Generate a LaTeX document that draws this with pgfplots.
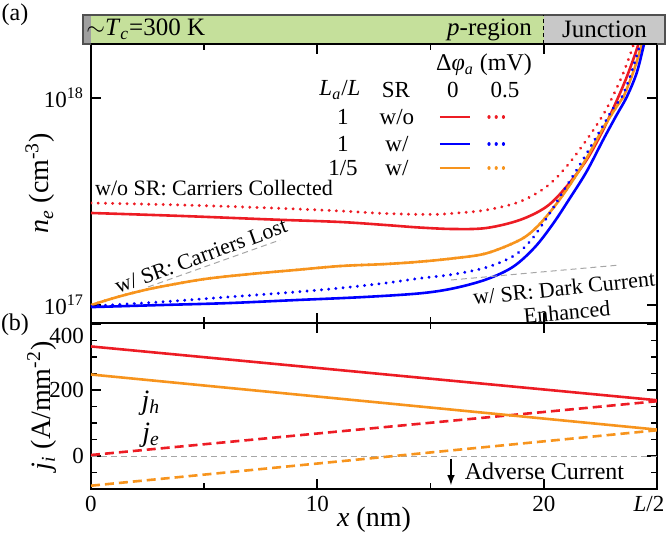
\documentclass[border=0pt]{standalone}
\usepackage{fontspec}
\setmainfont{Liberation Serif}
\usepackage{pgfplots}
\pgfplotsset{compat=1.18}

\definecolor{cred}{RGB}{237,28,36}
\definecolor{cblue}{RGB}{0,0,255}
\definecolor{corange}{RGB}{247,148,29}
\definecolor{barg}{RGB}{197,224,155}
\definecolor{barj}{RGB}{200,200,200}
\definecolor{bard}{RGB}{80,80,80}

\newcommand{\fs}[1]{\fontsize{#1}{#1}\selectfont}

\tikzset{
 dotl/.style={line width=1.6pt, line cap=round, dash pattern=on 0.01pt off 3.6pt},
 soll/.style={line width=1.3pt},
 dashl/.style={line width=1.3pt, dash pattern=on 4.5pt off 2.5pt},
}
\pgfplotsset{
 myax/.style={
  scale only axis, width=283pt, xmin=0, xmax=25,
  axis line style={line width=1.1pt},
  major tick length=5pt, minor tick length=3pt,
  every tick/.style={black, line width=0.9pt},
  tick label style={font=\fs{11.5}},
  /pgf/number format/assume math mode=true,
  label style={font=\fs{14}},
  clip=true,
 },
}

\begin{document}
\begin{tikzpicture}
\path[use as bounding box] (-45.5pt,22pt) rectangle (287.5pt,-244pt);

% ---------------- panel (a) ----------------
\begin{axis}[myax, name=a, at={(0,0)}, anchor=north west, height=139.5pt,
  ymode=log, ymin=8.2e16, ymax=1.82e18,
  ytick={1e17,1e18}, yticklabels={10\textsuperscript{17},10\textsuperscript{18}},
  yminorticks=false,
  xtick={0,10,20,25}, xticklabels={,,,}, minor xtick={5,15},
  ylabel={\textit{n}\textsubscript{\textit{e}} (cm\textsuperscript{-3})},
  ylabel style={at={(axis description cs:-0.09,0.5)}, anchor=center},
  every axis plot/.append style={smooth, tension=0.55},
]
% red, w/o SR, 0.5 mV (dotted)
\addplot[cred, dotl] coordinates {(0,3.110e17)(4,3.041e17)(8,2.941e17)(11,2.846e17)(13,2.767e17)(15,2.737e17)(16,2.773e17)(17.46,2.877e17)(18.94,3.155e17)(20.12,3.728e17)(21.0,4.658e17)(21.89,6.268e17)(22.62,8.278e17)(23.03,1.008e18)(23.51,1.316e18)(23.96,1.803e18)(24.15,2.2e18)};
% red, w/o SR, 0 mV
\addplot[cred, soll] coordinates {(0,2.783e17)(4,2.692e17)(8,2.588e17)(11,2.518e17)(13,2.435e17)(14.5,2.368e17)(16,2.329e17)(17.46,2.355e17)(18.94,2.574e17)(20.12,2.985e17)(21.0,3.728e17)(21.89,5.018e17)(22.62,7.003e17)(23.29,1.008e18)(23.73,1.316e18)(24.17,1.803e18)(24.35,2.2e18)};
% orange, 1/5, 0.5 mV (dotted, coincides)
\addplot[corange, dotl] coordinates {(0,1.0e17)(1,1.081e17)(2,1.156e17)(3,1.222e17)(5,1.335e17)(7,1.411e17)(9,1.476e17)(11,1.543e17)(13,1.578e17)(14.51,1.619e17)(16,1.681e17)(17.46,1.777e17)(18.94,2.061e17)(19.68,2.374e17)(20.41,2.932e17)(21.15,3.800e17)(21.89,5.113e17)(22.62,7.139e17)(23.22,9.08e17)(23.51,1.008e18)(23.96,1.340e18)(24.32,1.803e18)(24.5,2.2e18)};
% orange, 1/5, 0 mV
\addplot[corange, soll] coordinates {(0,1.0e17)(1,1.081e17)(2,1.156e17)(3,1.222e17)(5,1.335e17)(7,1.411e17)(9,1.476e17)(11,1.543e17)(13,1.578e17)(14.51,1.619e17)(16,1.681e17)(17.46,1.777e17)(18.94,2.061e17)(19.68,2.374e17)(20.41,2.932e17)(21.15,3.800e17)(21.89,5.113e17)(22.62,7.139e17)(23.22,9.08e17)(23.51,1.008e18)(23.96,1.340e18)(24.32,1.803e18)(24.5,2.2e18)};
% blue, w/ SR, 0.5 mV (dotted)
\addplot[cblue, dotl] coordinates {(0,0.989e17)(3,1.034e17)(6,1.093e17)(9,1.156e17)(11,1.208e17)(13,1.277e17)(14.51,1.346e17)(15.99,1.407e17)(17.46,1.520e17)(18.64,1.720e17)(19.38,2.022e17)(20.12,2.623e17)(20.85,3.526e17)(21.59,4.747e17)(22.33,6.502e17)(23.07,8.918e17)(23.44,1.008e18)(23.81,1.268e18)(24.25,1.803e18)(24.45,2.2e18)};
% blue, w/ SR, 0 mV
\addplot[cblue, soll] coordinates {(0,0.978e17)(3,1.0e17)(6,1.022e17)(9,1.057e17)(12,1.093e17)(14.51,1.139e17)(16.0,1.204e17)(17.46,1.330e17)(18.64,1.530e17)(19.6,1.900e17)(20.41,2.470e17)(21.15,3.278e17)(21.89,4.406e17)(22.62,6.268e17)(23.22,8.278e17)(23.66,1.008e18)(24.10,1.316e18)(24.42,1.803e18)(24.6,2.2e18)};
\end{axis}

% ---------------- panel (b) ----------------
\begin{axis}[myax, at={(0,-139.5pt)}, anchor=north west, height=83pt,
  ymin=-100, ymax=403,
  ytick={0,200}, minor ytick={-50,50,100,150,250,300,350},
  extra y ticks={400},
  extra y tick style={yticklabel style={yshift=-6pt}},
  xtick={0,10,20}, minor xtick={5,15},
  extra x ticks={25}, extra x tick labels={\textit{L}/2},
  extra x tick style={xticklabel style={xshift=-4pt}},
  xlabel={\textit{x} (nm)},
  xlabel style={at={(axis description cs:0.5,-0.187)}, anchor=center},
  ylabel={\textit{j}\textsubscript{\textit{i}} (A/mm\textsuperscript{-2})},
  ylabel style={at={(axis description cs:-0.087,0.5)}, anchor=center},
]
\addplot[gray!70, line width=0.5pt, dash pattern=on 3pt off 2pt] coordinates {(0,0)(25,0)};
\addplot[cred, dashl] coordinates {(0,3)(25,166)};
\addplot[corange, dashl] coordinates {(0,-90)(25,78)};
\addplot[cred, soll] coordinates {(0,332)(25,169)};
\addplot[corange, soll] coordinates {(0,247)(25,80)};
\node[font=\fs{14}] at (axis cs:2.65,160) {\textit{j}\textsubscript{\textit{h}}};
\node[font=\fs{14}] at (axis cs:2.65,64) {\textit{j}\textsubscript{\textit{e}}};
\draw[-{latex}, line width=0.7pt] (axis cs:15.9,-8) -- (axis cs:15.9,-88);
\node[font=\fs{12}, anchor=west] at (axis cs:16.2,-46) {Adverse Current};
\end{axis}

% ---------------- top bar ----------------
\fill[barg] (0,0) rectangle (226.4pt,14.5pt);
\fill[barj] (226.4pt,0) rectangle (287pt,14.5pt);
\fill[gray!75] (-4pt,0) rectangle (0,14.5pt);
\draw[bard, line width=1.3pt] (-4pt,0) rectangle (287pt,14.5pt);
\draw[black, line width=1.1pt] (0,0) -- (283pt,0);
\draw[black, line width=0.6pt, dash pattern=on 2pt off 1.5pt] (226.4pt,0) -- (226.4pt,14.5pt);
\node[font=\fs{12.5}, anchor=west, inner xsep=0.5pt] at (-3pt,7.25pt) {$\sim$\textit{T}\textsubscript{\textit{c}}=300 K};
\node[font=\fs{12.5}, anchor=east] at (224pt,7.25pt) {\textit{p}-region};
\node[font=\fs{12.5}] at (256.7pt,7.25pt) {Junction};

% panel labels
\node[font=\fs{12}] at (-38pt,14.5pt) {(a)};
\node[font=\fs{12}] at (-38pt,-140.5pt) {(b)};

% ---------------- legend table ----------------
\node[font=\fs{12}] at (196.5pt,-10.5pt) {Δ\textit{φ}\textsubscript{\textit{a}} (mV)};
\node[font=\fs{11.5}] at (124.5pt,-23pt) {\textit{L}\textsubscript{\textit{a}}/\textit{L}};
\node[font=\fs{11.5}] at (152.5pt,-23pt) {SR};
\node[font=\fs{11.5}] at (181pt,-23pt) {0};
\node[font=\fs{11.5}] at (207pt,-23pt) {0.5};
\node[font=\fs{11.5}] at (126pt,-36.5pt) {1};
\node[font=\fs{11.5}] at (153pt,-36.5pt) {w/o};
\node[font=\fs{11.5}] at (126pt,-50pt) {1};
\node[font=\fs{11.5}] at (153pt,-50pt) {w/};
\node[font=\fs{11.5}] at (126pt,-62pt) {1/5};
\node[font=\fs{11.5}] at (153pt,-62pt) {w/};
\draw[cred, soll] (174.5pt,-36.5pt) -- (189.5pt,-36.5pt);
\draw[cred, dotl] (199pt,-36.5pt) -- (209pt,-36.5pt);
\draw[cblue, soll] (174.5pt,-50pt) -- (189.5pt,-50pt);
\draw[cblue, dotl] (199pt,-50pt) -- (209pt,-50pt);
\draw[corange, soll] (174.5pt,-62pt) -- (189.5pt,-62pt);
\draw[corange, dotl] (199pt,-62pt) -- (209pt,-62pt);

% ---------------- annotations ----------------
\node[font=\fs{11}] at (61.5pt,-72pt) {w/o SR: Carriers Collected};
\draw[gray!70, line width=0.5pt, dash pattern=on 3pt off 2pt] (28.5pt,-121.5pt) -- (94.5pt,-98pt);
\node[font=\fs{11}, rotate=20] at (55pt,-106pt) {w/ SR: Carriers Lost};
\draw[gray!70, line width=0.5pt, dash pattern=on 3pt off 2pt] (180pt,-118pt) -- (264.5pt,-110.5pt);
\node[font=\fs{11}, rotate=6, inner sep=1pt] at (236.5pt,-122pt) {w/ SR: Dark Current};
\node[font=\fs{11}, rotate=5, inner sep=1pt] at (238pt,-134pt) {Enhanced};
\end{tikzpicture}
\end{document}
